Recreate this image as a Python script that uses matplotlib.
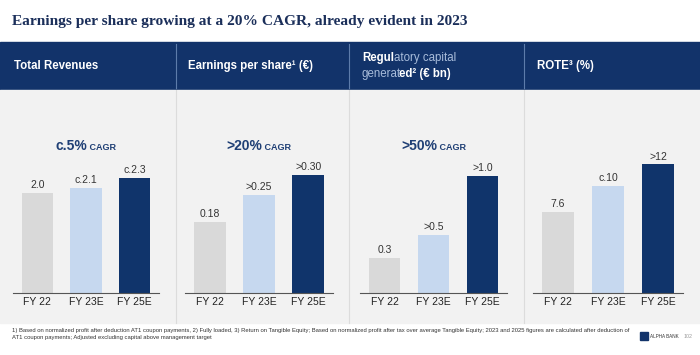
import matplotlib.pyplot as plt
from matplotlib.patches import Rectangle
from matplotlib.offsetbox import TextArea, HPacker, AnnotationBbox

# data
years = ["FY 22", "FY 23E", "FY 25E"]
revenues = [2.0, 2.1, 2.3]
revenues_lbl = ["2.0", "c.2.1", "c.2.3"]
eps = [0.18, 0.25, 0.30]
eps_lbl = ["0.18", ">0.25", ">0.30"]
capital = [0.3, 0.5, 1.0]
capital_lbl = ["0.3", ">0.5", ">1.0"]
rote = [7.6, 10, 12]
rote_lbl = ["7.6", "c.10", ">12"]
cagr_big = ["c.5%", ">20%", ">50%", None]

bar_colors = ["#d9d9d9", "#c6d8ef", "#10346b"]
navy = "#12336a"
W, H = 700, 355

plt.rcParams['font.family'] = ['Liberation Sans', 'DejaVu Sans']
fig = plt.figure(figsize=(7, 3.55), dpi=100)
bg = fig.add_axes([0, 0, 1, 1])
bg.set_xlim(0, W)
bg.set_ylim(H, 0)
bg.axis('off')

# backgrounds
bg.add_patch(Rectangle((0, 42), W, 47, color=navy, zorder=0))
bg.add_patch(Rectangle((0, 90), W, 233, color="#f2f2f2", zorder=0))
for x in [176, 349, 524]:
    bg.plot([x, x], [44, 88], color="#5d7cab", lw=0.8, zorder=1)
    bg.plot([x, x], [90, 323], color="#dcdcdc", lw=0.8, zorder=1)

# title
bg.text(12, 22, "Earnings per share growing at a 20% CAGR, already evident in 2023",
        fontsize=11.1, fontweight='bold', family='Liberation Serif', color="#1b2f5a",
        va='center', ha='left')

# header texts
hdr = dict(color='white', fontsize=8.3, fontweight='bold', va='center', ha='left')
bg.text(14, 66, "Total Revenues", **hdr)
bg.text(188, 66, "Earnings per share¹ (€)", **hdr)
bg.text(537, 66, "ROTE³ (%)", **hdr)
t1 = bg.text(362, 58, "Regul", **hdr)
bg.annotate("atory capital", xy=(1, 0), xycoords=t1, va='bottom', ha='left',
            color="#a9bddb", fontsize=8.3)
t2 = bg.text(362, 74, "generat", color="#a9bddb", fontsize=8.3, va='center', ha='left')
bg.annotate("ed² (€ bn)", xy=(1, 0), xycoords=t2, xytext=(-1.5, 0), textcoords='offset points',
            va='bottom', ha='left', color='white', fontsize=8.3, fontweight='bold')

# panels
panels = [
    (13, 159, revenues, revenues_lbl, 3.86),
    (185, 333, eps, eps_lbl, 0.49),
    (360, 507, capital, capital_lbl, 1.65),
    (533, 683, rote, rote_lbl, 18.0),
]
y_base, y_top = 293, 100
for i, (x0, x1, vals, lbls, ymax) in enumerate(panels):
    ax = fig.add_axes([x0 / W, 1 - y_base / H, (x1 - x0) / W, (y_base - y_top) / H])
    ax.set_facecolor('none')
    pos = range(len(years))
    ax.bar(pos, vals, width=0.65, color=bar_colors)
    for p, v, l in zip(pos, vals, lbls):
        ax.annotate(l, (p, v), xytext=(0, 2), textcoords='offset points',
                    ha='center', va='bottom', fontsize=7.5, color="#333333")
    ax.set_xlim(-0.5, 2.5)
    ax.set_ylim(0, ymax)
    ax.set_xticks(list(pos))
    ax.set_xticklabels(years, fontsize=7.5, color="#222222")
    ax.tick_params(axis='x', length=0, pad=3)
    ax.set_yticks([])
    for s in ['top', 'left', 'right']:
        ax.spines[s].set_visible(False)
    ax.spines['bottom'].set_color("#555555")
    ax.spines['bottom'].set_linewidth(0.8)
    if cagr_big[i]:
        box = HPacker(children=[
            TextArea(cagr_big[i], textprops=dict(fontsize=10, fontweight='bold', color="#1f3f75")),
            TextArea(" CAGR", textprops=dict(fontsize=6.5, fontweight='bold', color="#1f3f75")),
        ], align='baseline', pad=0, sep=0)
        cx = (x0 + x1) / 2
        ab = AnnotationBbox(box, (cx, 146), xycoords=bg.transData, frameon=False,
                            box_alignment=(0.5, 0.5))
        bg.add_artist(ab)

# footnote
fn = ("1) Based on normalized profit after deduction AT1 coupon payments, 2) Fully loaded, 3) Return on Tangible Equity; "
      "Based on normalized profit after tax over average Tangible Equity; 2023 and 2025 figures are calculated after deduction of\n"
      "AT1 coupon payments; Adjusted excluding capital above management target")
bg.text(12, 334, fn, fontsize=4.2, color="#333333", va='center', ha='left', linespacing=1.4)

# logo
bg.add_patch(Rectangle((640, 332), 8, 8, color=navy, zorder=2))
bg.text(650, 336, "ALPHA BANK", fontsize=3.3, color="#333333", va='center', ha='left')
bg.text(684, 336, "102", fontsize=3.8, color="#999999", va='center', ha='left')

fig.savefig("out.png", dpi=100)
